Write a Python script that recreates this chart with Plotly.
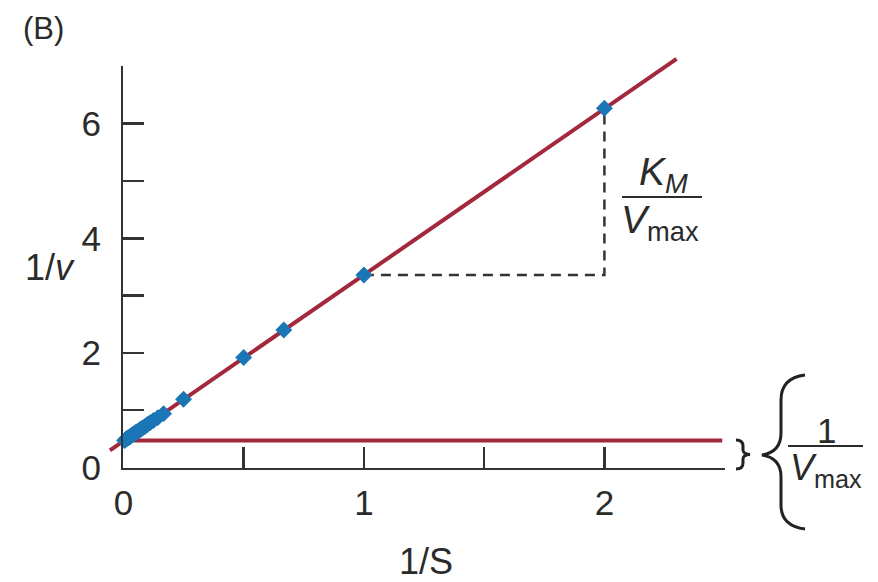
import plotly.graph_objects as go

# ---------------- data ----------------
inv_S = [2.0, 1.0, 0.667, 0.5, 0.25, 0.167, 0.143, 0.125, 0.111, 0.1,
         0.0909, 0.0833, 0.0769, 0.0714, 0.0667, 0.0625, 0.0556, 0.05,
         0.0455, 0.04, 0.0333, 0.0286, 0.025, 0.02, 0.0167, 0.0125, 0.01, 0.005]
inv_v = [6.27, 3.36, 2.40, 1.92, 1.19, 0.94, 0.87, 0.82, 0.78, 0.75,
         0.72, 0.70, 0.68, 0.67, 0.65, 0.64, 0.62, 0.61,
         0.59, 0.58, 0.56, 0.54, 0.53, 0.52, 0.51, 0.50, 0.49, 0.47]
fit_x = [-0.056, 2.30]
fit_y = [0.30, 7.13]
inv_vmax = 0.47           # 1/Vmax baseline
base_x = [0.0, 2.49]
x_tickvals = [0, 1, 2]
x_ticktext = ["0", "1", "2"]
y_tickvals = [0, 2, 4, 6]
y_ticktext = ["0", "2", "4", "6"]

# ---------------- geometry ----------------
W, H = 878, 582
X0PX, XSCALE = 123.4, 240.5
Y0PX, YSCALE = 467.5, 57.3
RED = "#a3283b"
BLUE = "#1b76b6"
INK = "#2b2b2b"
AX = "#333333"
FONT = "Liberation Sans, Arial, sans-serif"


def px(x, y):
    return x / W, 1 - y / H


def path(points_cmds):
    out = []
    for cmd, pts in points_cmds:
        coords = []
        for (x, y) in pts:
            a, b = px(x, y)
            coords.append(f"{a:.5f},{b:.5f}")
        out.append(cmd + " ".join(coords))
    return " ".join(out)


fig = go.Figure()

fig.add_trace(go.Scatter(x=fit_x, y=fit_y, mode="lines",
                         line=dict(color=RED, width=4), hoverinfo="skip"))
fig.add_trace(go.Scatter(x=base_x, y=[inv_vmax, inv_vmax], mode="lines",
                         line=dict(color=RED, width=4), hoverinfo="skip"))
fig.add_trace(go.Scatter(x=[inv_S[1], inv_S[0], inv_S[0]],
                         y=[inv_v[1], inv_v[1], inv_v[0]], mode="lines",
                         line=dict(color=AX, width=2.5, dash="10px,7px"),
                         hoverinfo="skip"))
fig.add_trace(go.Scatter(x=inv_S, y=inv_v, mode="markers",
                         marker=dict(symbol="diamond", size=13, color=BLUE),
                         hoverinfo="skip"))
fig.add_trace(go.Scatter(x=[0], y=[0], xaxis="x2", yaxis="y2", mode="markers",
                         marker=dict(opacity=0), hoverinfo="skip"))

axis_common = dict(showline=True, linewidth=2.5, linecolor=AX,
                   ticks="inside", ticklen=21, tickwidth=2.5, tickcolor=AX,
                   showgrid=False, zeroline=False, fixedrange=True,
                   tickfont=dict(family=FONT, size=35, color=INK))

fig.update_layout(
    template="none",
    width=W, height=H, autosize=False,
    margin=dict(l=0, r=0, t=0, b=0, pad=0),
    paper_bgcolor="white", plot_bgcolor="rgba(0,0,0,0)",
    showlegend=False,
    xaxis=dict(domain=[0, 1], range=[(0 - X0PX) / XSCALE, (W - X0PX) / XSCALE],
               visible=False, fixedrange=True),
    yaxis=dict(domain=[0, 1], range=[(Y0PX - H) / YSCALE, Y0PX / YSCALE],
               visible=False, fixedrange=True),
    xaxis2=dict(domain=[X0PX / W, (X0PX + 2.5 * XSCALE) / W], range=[0, 2.5],
                anchor="y2", tickvals=x_tickvals, ticktext=x_ticktext,
                ticklabelstandoff=3,
                minor=dict(ticks="inside", ticklen=21, tickwidth=2.5,
                           tickcolor=AX, dtick=0.5, tick0=0),
                **axis_common),
    yaxis2=dict(domain=[1 - Y0PX / H, 1 - (Y0PX - 7 * YSCALE) / H], range=[0, 7],
                anchor="x2", tickvals=y_tickvals, ticktext=y_ticktext,
                ticklabelstandoff=13,
                minor=dict(ticks="inside", ticklen=21, tickwidth=2.5,
                           tickcolor=AX, dtick=1, tick0=0),
                **axis_common),
)


def ann(text, x, y, size=35, **kw):
    a, b = px(x, y)
    fig.add_annotation(text=text, x=a, y=b, xref="paper", yref="paper",
                       showarrow=False, font=dict(family=FONT, size=size, color=INK),
                       xanchor="center", yanchor="middle", **kw)


ann("(B)", 43, 28, size=31)
ann("1/<i>v</i>", 50, 268, size=36)
ann("1/S", 426, 561, size=36)
ann("<i>K</i><sub><i>M</i></sub>", 663, 174, size=39)
ann("<i>V</i><sub>max</sub>", 660, 223, size=39)
ann("1", 826, 430, size=35)
ann("<i>V</i><sub>max</sub>", 826, 470, size=36)

shapes = []
for (xa, xb, yy) in [(622, 702, 197), (788, 863, 446)]:
    a0, b0 = px(xa, yy)
    a1, b1 = px(xb, yy)
    shapes.append(dict(type="line", xref="paper", yref="paper",
                       x0=a0, y0=b0, x1=a1, y1=b1,
                       line=dict(color=INK, width=2)))

small = path([("M", [(736, 440)]),
              ("Q", [(743, 440), (743, 446)]),
              ("L", [(743, 450)]),
              ("Q", [(743, 454), (750, 454.5)]),
              ("Q", [(743, 455), (743, 459)]),
              ("L", [(743, 463)]),
              ("Q", [(743, 469), (736, 469)])])
shapes.append(dict(type="path", xref="paper", yref="paper", path=small,
                   line=dict(color="#222222", width=3)))
big = path([("M", [(805, 375)]),
            ("Q", [(781, 378), (781, 400)]),
            ("L", [(781, 433)]),
            ("Q", [(781, 452), (762, 455)]),
            ("Q", [(781, 458), (781, 477)]),
            ("L", [(781, 505)]),
            ("Q", [(781, 526), (805, 529)])])
shapes.append(dict(type="path", xref="paper", yref="paper", path=big,
                   line=dict(color="#222222", width=3)))
fig.update_layout(shapes=shapes)

fig.write_html("out.html", config={"displayModeBar": False, "staticPlot": True},
               post_script="document.body.style.margin='0';"
                           "document.body.style.overflow='hidden';")
